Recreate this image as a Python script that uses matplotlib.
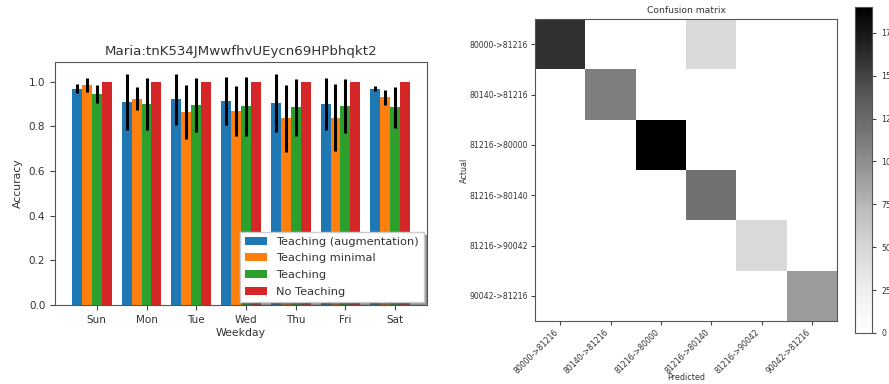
import matplotlib
matplotlib.use("Agg")
import matplotlib.pyplot as plt
import numpy as np

days = ["Sun", "Mon", "Tue", "Wed", "Thu", "Fri", "Sat"]
series_names = ["Teaching (augmentation)", "Teaching minimal", "Teaching", "No Teaching"]
aug_mean = [0.970, 0.910, 0.921, 0.915, 0.906, 0.900, 0.970]
aug_err = [0.020, 0.125, 0.116, 0.108, 0.129, 0.118, 0.011]
min_mean = [0.985, 0.925, 0.866, 0.870, 0.836, 0.840, 0.930]
min_err = [0.030, 0.053, 0.122, 0.112, 0.149, 0.149, 0.032]
teach_mean = [0.945, 0.900, 0.896, 0.891, 0.885, 0.891, 0.885]
teach_err = [0.040, 0.115, 0.120, 0.132, 0.129, 0.122, 0.090]
no_mean = [1.0, 1.0, 1.0, 1.0, 1.0, 1.0, 1.0]
no_err = [0.0, 0.0, 0.0, 0.0, 0.0, 0.0, 0.0]
colors = ["#1f77b4", "#ff7f0e", "#2ca02c", "#d62728"]

cm_labels = ["80000->81216", "80140->81216", "81216->80000",
             "81216->80140", "81216->90042", "90042->81216"]
cm_values = [
    [160, 0, 0, 47, 0, 0],
    [0, 110, 0, 0, 0, 0],
    [0, 0, 190, 0, 0, 0],
    [0, 0, 0, 120, 0, 0],
    [0, 0, 0, 0, 47, 0],
    [0, 0, 0, 0, 0, 92],
]

W, H = 889, 384
fig = plt.figure(figsize=(W / 100, H / 100), dpi=100)

def px(l, t, r, b):
    return [l / W, 1 - b / H, (r - l) / W, (b - t) / H]

ax = fig.add_axes(px(55, 62, 427, 305))
x = np.arange(len(days))
width = 0.2
means = [aug_mean, min_mean, teach_mean, no_mean]
errs = [aug_err, min_err, teach_err, no_err]
for k in range(4):
    ax.bar(x + k * width, means[k], width, yerr=errs[k], color=colors[k],
           label=series_names[k], error_kw=dict(ecolor="black", elinewidth=2.2))
ax.set_xticks(x + 2 * width)
ax.set_xticklabels(days, fontsize=7.5)
ax.tick_params(axis="both", labelsize=7.5, colors="#444444", labelcolor="#333333")
ax.set_xlabel("Weekday", fontsize=7.8, color="#333333", labelpad=2)
ax.set_ylabel("Accuracy", fontsize=7.8, color="#333333", labelpad=4)
ax.set_title("Maria:tnK534JMwwfhvUEycn69HPbhqkt2", fontsize=9.6, color="#333333", pad=5)
for s in ax.spines.values():
    s.set_color("#555555")
leg = ax.legend(loc="lower right", fontsize=8.2, framealpha=1, shadow=True,
                fancybox=False, borderaxespad=0.3, handlelength=2.0,
                labelspacing=0.6)
leg.get_frame().set_edgecolor("#cccccc")
for t in leg.get_texts():
    t.set_color("#333333")

ax2 = fig.add_axes(px(535, 19, 837, 321))
im = ax2.imshow(np.array(cm_values), cmap="Greys", interpolation="nearest",
                vmin=0, vmax=190, aspect="auto")
ax2.set_xticks(range(len(cm_labels)))
ax2.set_xticklabels(cm_labels, rotation=45, ha="right", fontsize=5.6)
ax2.set_yticks(range(len(cm_labels)))
ax2.set_yticklabels(cm_labels, fontsize=5.6)
ax2.tick_params(axis="both", length=3, pad=2, colors="#444444", labelcolor="#333333")
ax2.set_title("Confusion matrix", fontsize=6.6, color="#333333", pad=4)
ax2.set_xlabel("Predicted", fontsize=5.8, color="#333333")
ax2.xaxis.set_label_coords(0.5, -0.172)
ax2.set_ylabel("Actual", fontsize=5.8, color="#333333", labelpad=0)
for s in ax2.spines.values():
    s.set_color("#555555")

cax = fig.add_axes(px(855, 7, 872, 333))
cb = fig.colorbar(im, cax=cax)
cb.set_ticks([0, 25, 50, 75, 100, 125, 150, 175])
cb.ax.tick_params(labelsize=5.6, length=3, colors="#444444", labelcolor="#333333")
cb.outline.set_edgecolor("#555555")

fig.savefig("out.png", dpi=100)
